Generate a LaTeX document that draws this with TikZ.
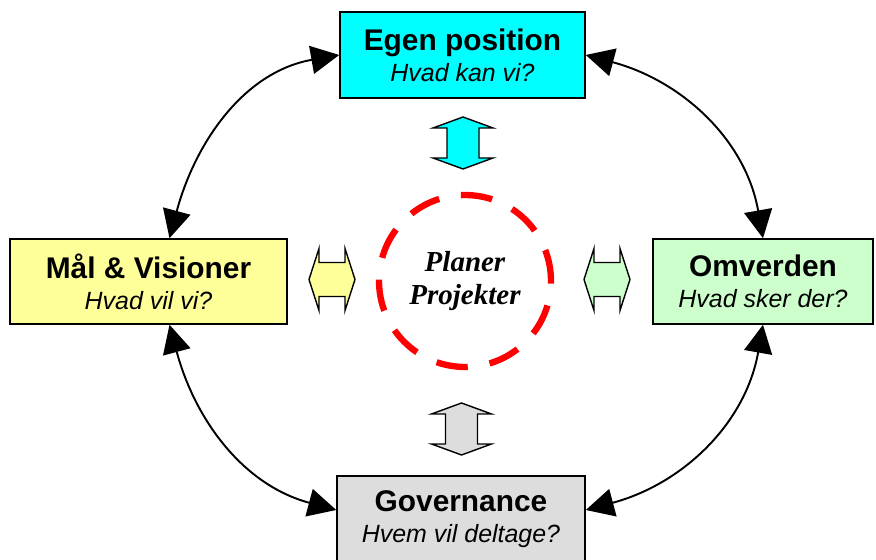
\documentclass[tikz,border=0pt]{standalone}
\usepackage{fontspec}
\setmainfont{Liberation Sans}
\newfontfamily\planfont{Liberation Serif}
\usepackage{tikz}
\usetikzlibrary{arrows.meta,calc}
\definecolor{boxcyan}{RGB}{0,255,255}
\definecolor{boxyellow}{RGB}{255,255,153}
\definecolor{boxgreen}{RGB}{204,255,204}
\definecolor{boxgray}{RGB}{221,221,221}
\newcommand{\boxtitle}[2]{{\bfseries #1}\\{\fontsize{14.2}{17.6}\selectfont\itshape #2}}

\begin{document}
\begin{tikzpicture}[
  x=0.02cm, y=0.02cm,
  block/.style={
    draw, line width=0.9pt,
    align=center, inner sep=0pt,
    font=\fontsize{17}{17.6}\selectfont
  },
  plan/.style={
    circle, draw=red, line width=3.6pt,
    dash pattern=on 18pt off 12.6pt,
    minimum size=3.44cm, inner sep=0pt, align=center,
    font=\planfont\bfseries\itshape\fontsize{16.5}{18.7}\selectfont
  },
  link/.style={{Triangle[length=16pt,width=16pt]}-{Triangle[length=16pt,width=16pt]},line width=1.1pt},
  dbl/.style={draw, line width=0.8pt},
  dblvert/.pic={\path[pic actions] (0,26)--(30,15)--(16,15)--(16,-15)--(30,-15)--(0,-26)
    --(-30,-15)--(-16,-15)--(-16,15)--(-30,15)--cycle;},
  dblhoriz/.pic={\path[pic actions] (-23,0)--(-13,31)--(-13,17)--(13,17)--(13,31)--(23,0)
    --(13,-31)--(13,-17)--(-13,-17)--(-13,-31)--cycle;}
]
\useasboundingbox (0,0) rectangle (876,560);

\node[block, fill=boxcyan, minimum width=4.9cm, minimum height=1.72cm] (egen) at (462.5,505)
  {\boxtitle{Egen position}{Hvad kan vi?}};

\node[block, fill=boxyellow, minimum width=5.54cm, minimum height=1.7cm] (mal) at (148.5,278.5)
  {\boxtitle{Mål \& Visioner}{Hvad vil vi?}};

\node[block, fill=boxgreen, minimum width=4.4cm, minimum height=1.7cm] (omv) at (763,278.5)
  {\boxtitle{Omverden}{Hvad sker der?}};

\node[block, fill=boxgray, minimum width=4.96cm, minimum height=1.72cm] (gov) at (461,41)
  {\boxtitle{Governance}{Hvem vil deltage?}};

\node[plan] (plan) at (465,279) {Planer\\Projekter};

% double arrows round the centre
\pic[dbl, fill=boxcyan] (uparr) at (463,417) {dblvert};
\pic[dbl, fill=boxgray] (downarr) at (461.5,131) {dblvert};
\pic[dbl, fill=boxyellow] (leftarr) at (332,280.5) {dblhoriz};
\pic[dbl, fill=boxgreen] (rightarr) at (607,280.5) {dblhoriz};

\draw[link] ($(mal.north)+(21,0)$) to[out=75,in=190] (egen.west);
\draw[link] (egen.east) to[out=-15,in=100] (omv.north);
\draw[link] ($(mal.south)+(21,0)$) to[out=-75,in=165] ($(gov.west)+(0,9)$);
\draw[link] (omv.south) to[out=-100,in=15] ($(gov.east)+(0,9)$);
\end{tikzpicture}
\end{document}
